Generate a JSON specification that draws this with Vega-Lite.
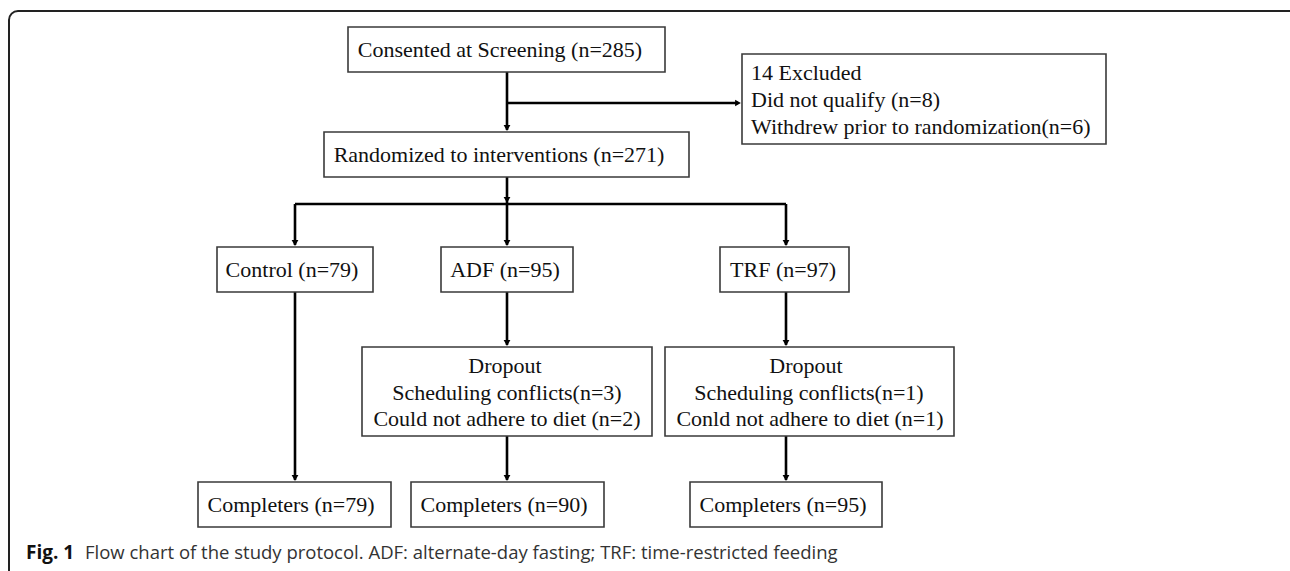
{
  "$schema": "https://vega.github.io/schema/vega-lite/v6.json",
  "width": 1290,
  "height": 571,
  "padding": 0,
  "autosize": {"type": "fit", "contains": "padding"},
  "background": "white",
  "config": {"view": {"stroke": null}},
  "datasets": {
    "frame": [{"x1": 9, "x2": 1300, "y1": 11, "y2": 580}],
    "boxes": [
      {"id": "consented", "x1": 348, "x2": 665, "y1": 27, "y2": 72},
      {"id": "excluded", "x1": 742, "x2": 1106, "y1": 54, "y2": 144},
      {"id": "randomized", "x1": 324, "x2": 689, "y1": 132, "y2": 177},
      {"id": "control", "x1": 217, "x2": 373, "y1": 247, "y2": 292},
      {"id": "adf", "x1": 441, "x2": 573, "y1": 247, "y2": 292},
      {"id": "trf", "x1": 720, "x2": 849, "y1": 247, "y2": 292},
      {"id": "adf_drop", "x1": 362, "x2": 652, "y1": 347, "y2": 436},
      {"id": "trf_drop", "x1": 665, "x2": 954, "y1": 347, "y2": 436},
      {"id": "comp_control", "x1": 198, "x2": 391, "y1": 482, "y2": 527},
      {"id": "comp_adf", "x1": 411, "x2": 604, "y1": 482, "y2": 527},
      {"id": "comp_trf", "x1": 690, "x2": 882, "y1": 482, "y2": 527}
    ],
    "links": [
      {"x1": 507, "x2": 507, "y1": 72, "y2": 130},
      {"x1": 507, "x2": 738, "y1": 103, "y2": 103},
      {"x1": 507, "x2": 507, "y1": 177, "y2": 204},
      {"x1": 295, "x2": 786, "y1": 204, "y2": 204},
      {"x1": 295, "x2": 295, "y1": 204, "y2": 245},
      {"x1": 507, "x2": 507, "y1": 204, "y2": 245},
      {"x1": 786, "x2": 786, "y1": 204, "y2": 245},
      {"x1": 295, "x2": 295, "y1": 292, "y2": 480},
      {"x1": 507, "x2": 507, "y1": 292, "y2": 345},
      {"x1": 507, "x2": 507, "y1": 436, "y2": 480},
      {"x1": 786, "x2": 786, "y1": 292, "y2": 345},
      {"x1": 786, "x2": 786, "y1": 436, "y2": 480}
    ],
    "heads": [
      {"x": 507, "y": 128, "dir": "triangle-down"},
      {"x": 738, "y": 103, "dir": "triangle-right"},
      {"x": 507, "y": 200, "dir": "triangle-down"},
      {"x": 295, "y": 243, "dir": "triangle-down"},
      {"x": 507, "y": 243, "dir": "triangle-down"},
      {"x": 786, "y": 243, "dir": "triangle-down"},
      {"x": 295, "y": 478, "dir": "triangle-down"},
      {"x": 507, "y": 343, "dir": "triangle-down"},
      {"x": 507, "y": 478, "dir": "triangle-down"},
      {"x": 786, "y": 343, "dir": "triangle-down"},
      {"x": 786, "y": 478, "dir": "triangle-down"}
    ],
    "centered": [
      {"x": 500, "y": 50, "label": "Consented at Screening (n=285)"},
      {"x": 499, "y": 155, "label": "Randomized to interventions (n=271)"},
      {"x": 292, "y": 270, "label": "Control (n=79)"},
      {"x": 505, "y": 270, "label": "ADF (n=95)"},
      {"x": 783, "y": 270, "label": "TRF (n=97)"},
      {"x": 505, "y": 366, "label": "Dropout"},
      {"x": 507, "y": 393, "label": "Scheduling conflicts(n=3)"},
      {"x": 507, "y": 419, "label": "Could not adhere to diet (n=2)"},
      {"x": 806, "y": 366, "label": "Dropout"},
      {"x": 809, "y": 393, "label": "Scheduling conflicts(n=1)"},
      {"x": 810, "y": 419, "label": "Conld not adhere to diet (n=1)"},
      {"x": 291, "y": 505, "label": "Completers (n=79)"},
      {"x": 504, "y": 505, "label": "Completers (n=90)"},
      {"x": 783, "y": 505, "label": "Completers (n=95)"}
    ],
    "lefttext": [
      {"x": 751, "y": 73, "label": "14 Excluded"},
      {"x": 751, "y": 100, "label": "Did not qualify (n=8)"},
      {"x": 751, "y": 127, "label": "Withdrew prior to randomization(n=6)"}
    ],
    "capbold": [{"x": 26, "y": 553, "label": "Fig. 1"}],
    "caption": [{"x": 85, "y": 553, "label": "Flow chart of the study protocol. ADF: alternate-day fasting; TRF: time-restricted feeding"}]
  },
  "layer": [
    {
      "data": {"name": "frame"},
      "mark": {"type": "rect", "fill": null, "stroke": "#222222", "strokeWidth": 2, "cornerRadius": 9, "clip": true},
      "encoding": {
        "x": {"field": "x1", "type": "quantitative", "scale": {"domain": [0, 1290], "nice": false, "zero": false}, "axis": null},
        "x2": {"field": "x2"},
        "y": {"field": "y1", "type": "quantitative", "scale": {"domain": [571, 0], "nice": false, "zero": false}, "axis": null},
        "y2": {"field": "y2"}
      }
    },
    {
      "data": {"name": "links"},
      "mark": {"type": "rule", "stroke": "#000000", "strokeWidth": 2.6},
      "encoding": {
        "x": {"field": "x1", "type": "quantitative", "scale": {"domain": [0, 1290], "nice": false, "zero": false}, "axis": null},
        "x2": {"field": "x2"},
        "y": {"field": "y1", "type": "quantitative", "scale": {"domain": [571, 0], "nice": false, "zero": false}, "axis": null},
        "y2": {"field": "y2"}
      }
    },
    {
      "data": {"name": "heads"},
      "mark": {"type": "point", "filled": true, "color": "#000000", "size": 45, "opacity": 1},
      "encoding": {
        "x": {"field": "x", "type": "quantitative", "scale": {"domain": [0, 1290], "nice": false, "zero": false}, "axis": null},
        "y": {"field": "y", "type": "quantitative", "scale": {"domain": [571, 0], "nice": false, "zero": false}, "axis": null},
        "shape": {"field": "dir", "type": "nominal", "scale": null}
      }
    },
    {
      "data": {"name": "boxes"},
      "mark": {"type": "rect", "fill": "white", "stroke": "#3a3a3a", "strokeWidth": 1.6},
      "encoding": {
        "x": {"field": "x1", "type": "quantitative", "scale": {"domain": [0, 1290], "nice": false, "zero": false}, "axis": null},
        "x2": {"field": "x2"},
        "y": {"field": "y1", "type": "quantitative", "scale": {"domain": [571, 0], "nice": false, "zero": false}, "axis": null},
        "y2": {"field": "y2"}
      }
    },
    {
      "data": {"name": "centered"},
      "mark": {"type": "text", "font": "Liberation Serif", "fontSize": 22, "align": "center", "baseline": "middle", "color": "#111111"},
      "encoding": {
        "x": {"field": "x", "type": "quantitative", "scale": {"domain": [0, 1290], "nice": false, "zero": false}, "axis": null},
        "y": {"field": "y", "type": "quantitative", "scale": {"domain": [571, 0], "nice": false, "zero": false}, "axis": null},
        "text": {"field": "label"}
      }
    },
    {
      "data": {"name": "lefttext"},
      "mark": {"type": "text", "font": "Liberation Serif", "fontSize": 22, "align": "left", "baseline": "middle", "color": "#111111"},
      "encoding": {
        "x": {"field": "x", "type": "quantitative", "scale": {"domain": [0, 1290], "nice": false, "zero": false}, "axis": null},
        "y": {"field": "y", "type": "quantitative", "scale": {"domain": [571, 0], "nice": false, "zero": false}, "axis": null},
        "text": {"field": "label"}
      }
    },
    {
      "data": {"name": "capbold"},
      "mark": {"type": "text", "font": "Open Sans", "fontSize": 19, "fontWeight": "bold", "align": "left", "baseline": "middle", "color": "#111111"},
      "encoding": {
        "x": {"field": "x", "type": "quantitative", "scale": {"domain": [0, 1290], "nice": false, "zero": false}, "axis": null},
        "y": {"field": "y", "type": "quantitative", "scale": {"domain": [571, 0], "nice": false, "zero": false}, "axis": null},
        "text": {"field": "label"}
      }
    },
    {
      "data": {"name": "caption"},
      "mark": {"type": "text", "font": "Open Sans", "fontSize": 18.5, "align": "left", "baseline": "middle", "color": "#333333"},
      "encoding": {
        "x": {"field": "x", "type": "quantitative", "scale": {"domain": [0, 1290], "nice": false, "zero": false}, "axis": null},
        "y": {"field": "y", "type": "quantitative", "scale": {"domain": [571, 0], "nice": false, "zero": false}, "axis": null},
        "text": {"field": "label"}
      }
    }
  ]
}
